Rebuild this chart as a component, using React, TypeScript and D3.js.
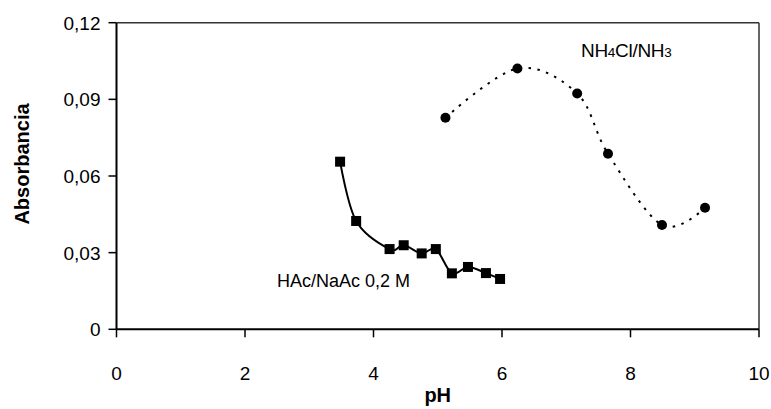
import React from "react";
import * as d3 from "d3";

const hacPH = [3.48, 3.73, 4.25, 4.47, 4.75, 4.97, 5.22, 5.47, 5.75, 5.97];
const hacAbs = [0.0656, 0.0424, 0.0314, 0.0329, 0.0297, 0.0314, 0.0219, 0.0244, 0.022, 0.0197];
const nhPH = [5.12, 6.24, 7.17, 7.65, 8.49, 9.16];
const nhAbs = [0.0828, 0.1021, 0.0923, 0.0687, 0.0408, 0.0476];
const xTicks = [0, 2, 4, 6, 8, 10];
const yTicks = [0, 0.03, 0.06, 0.09, 0.12];

const W = 771, H = 409;
const L = 116.5, R = 759, T = 22.7, B = 329.3;
const FONT = "Liberation Sans, Arial, sans-serif";

export default function App() {
  const x = d3.scaleLinear().domain([0, 10]).range([L, R]);
  const y = d3.scaleLinear().domain([0, 0.12]).range([B, T]);
  const line = d3
    .line<[number, number]>()
    .x((d) => x(d[0]))
    .y((d) => y(d[1]))
    .curve(d3.curveCardinal.tension(0));
  const hac: [number, number][] = hacPH.map((p, i) => [p, hacAbs[i]]);
  const nh: [number, number][] = nhPH.map((p, i) => [p, nhAbs[i]]);
  const fmt = (v: number) => (v === 0 ? "0" : v.toFixed(2).replace(".", ","));

  return (
    <svg width={W} height={H} style={{ position: "absolute", left: 0, top: 0 }} fontFamily={FONT}>
      <rect x={0} y={0} width={W} height={H} fill="#fff" />
      {/* frame */}
      <line x1={L} y1={T} x2={R} y2={T} stroke="#333" strokeWidth={1.5} />
      <line x1={R} y1={T} x2={R} y2={B} stroke="#333" strokeWidth={1.5} />
      {/* axes */}
      <line x1={L} y1={T} x2={L} y2={B} stroke="#000" strokeWidth={2} />
      <line x1={L} y1={B} x2={R} y2={B} stroke="#000" strokeWidth={2} />
      {yTicks.map((t) => (
        <g key={"y" + t}>
          <line x1={L - 8} x2={L} y1={y(t)} y2={y(t)} stroke="#000" strokeWidth={1.5} />
          <text x={L - 16} y={y(t) + 7} textAnchor="end" fontSize={19} fill="#000">
            {fmt(t)}
          </text>
        </g>
      ))}
      {xTicks.map((t) => (
        <g key={"x" + t}>
          <line x1={x(t)} x2={x(t)} y1={B} y2={B + 8} stroke="#000" strokeWidth={1.5} />
          <text x={x(t)} y={380} textAnchor="middle" fontSize={19} fill="#000">
            {t}
          </text>
        </g>
      ))}
      <text x={(L + R) / 2} y={402} textAnchor="middle" fontSize={20} fontWeight="bold">
        pH
      </text>
      <text
        transform={`translate(29,164) rotate(-90)`}
        textAnchor="middle"
        fontSize={20}
        fontWeight="bold"
      >
        Absorbancia
      </text>
      {/* series */}
      <path d={line(hac) || ""} fill="none" stroke="#000" strokeWidth={2} />
      <path d={line(nh) || ""} fill="none" stroke="#000" strokeWidth={2} strokeDasharray="2.5,6.5" />
      {hac.map((d, i) => (
        <rect key={"h" + i} x={x(d[0]) - 5} y={y(d[1]) - 5} width={10} height={10} fill="#000" />
      ))}
      {nh.map((d, i) => (
        <circle key={"n" + i} cx={x(d[0])} cy={y(d[1])} r={5} fill="#000" />
      ))}
      <text x={277} y={287} fontSize={18} fill="#000">
        HAc/NaAc 0,2 M
      </text>
      <text x={581} y={57} fontSize={19} fill="#000" letterSpacing={-0.3}>
        NH<tspan fontSize={13.5}>4</tspan>Cl/NH<tspan fontSize={13.5}>3</tspan>
      </text>
    </svg>
  );
}
